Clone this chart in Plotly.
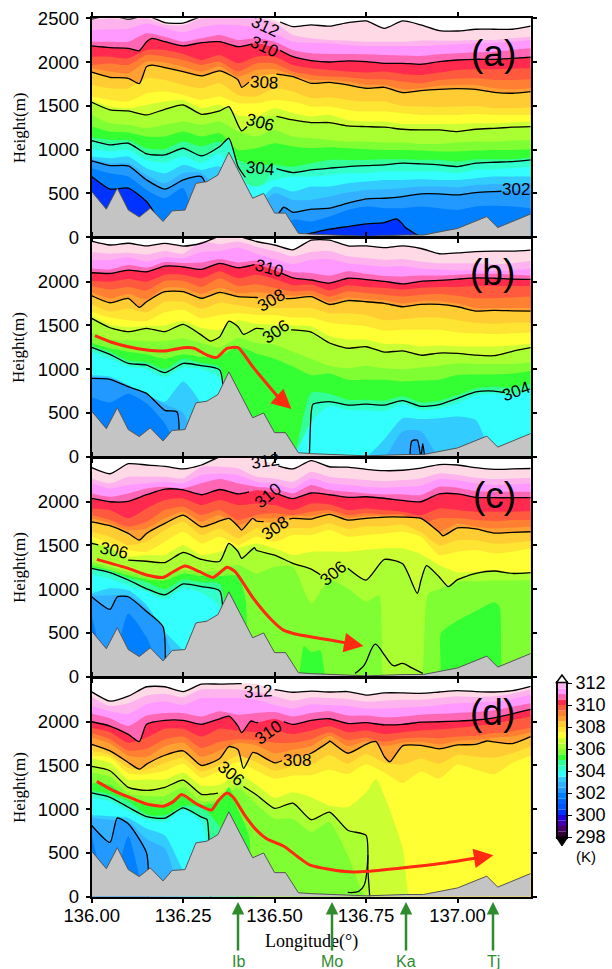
import plotly.graph_objects as go
import numpy as np

LON = [136.00,136.05,136.10,136.15,136.20,136.25,136.30,136.35,136.40,136.45,136.50,136.55,136.60,
       136.65,136.70,136.75,136.80,136.85,136.90,136.95,137.00,137.05,137.10,137.15,137.20]
TERRAIN_LON = [136.00,136.04,136.07,136.10,136.13,136.16,136.195,136.22,136.255,136.285,136.315,136.345,136.375,
               136.44,136.47,136.50,136.53,136.565,136.60,136.75,136.857,136.907,137.00,137.08,137.11,137.18,137.20]
TERRAIN_H = [520,320,560,310,230,330,180,300,310,615,635,710,970,445,500,275,275,45,35,10,25,25,100,235,110,235,265]

LEVEL_COLORS = {312:"#ffd9e6",311.5:"#ffb3ee",311:"#ff99ff",310.5:"#ff66b3",310:"#ff2a4d",309.5:"#ff5a3d",309:"#ff7f33",
                308.5:"#ffa033",308:"#ffcc33",307.5:"#ffe533",307:"#ffff33",306.5:"#ccff33",306:"#aaff33",305.5:"#7fff33",
                305:"#33ff33",304.5:"#33ff99",304:"#33ffcc",303.5:"#33ffff",303:"#33ccff",302.5:"#33b0ff",302:"#2299ff",
                301.5:"#0080ff",301:"#0066ff",300.5:"#0055ff",300:"#0033ff",299.5:"#2200dd",299:"#4400aa",298.5:"#440066"}
CB_BOTTOM = "#330033"

# ---------- panel (a) ----------
A_312=[2490,2530,2490,2530,2450,2445,2520,2530,2530,2530,2480,2405,2425,2410,2450,2470,2385,2470,2425,2360,2355,2375,2375,2375,2410]
A_311_5=[2480,2500,2480,2500,2430,2420,2500,2510,2520,2510,2450,2310,2272,2253,2245,2233,2233,2233,2245,2245,2245,2253,2253,2272,2290]
A_311=[2367,2375,2380,2440,2390,2340,2400,2430,2420,2400,2330,2233,2222,2215,2195,2184,2184,2184,2184,2195,2203,2215,2222,2233,2252]
A_310_5=[2233,2233,2233,2330,2290,2233,2272,2310,2253,2272,2233,2138,2100,2093,2093,2089,2081,2075,2070,2089,2100,2112,2119,2138,2157]
A_310=[2184,2165,2157,2233,2233,2184,2222,2233,2176,2214,2165,2062,2017,2001,2013,2005,1986,1986,1975,2005,2024,2032,2032,2043,2055]
A_309_5=[2062,2062,2043,2138,2138,2093,2024,2081,1986,2062,2062,1967,1929,1910,1891,1880,1891,1865,1853,1880,1910,1918,1918,1925,1929]
A_309=[1967,1985,1967,2081,2062,2024,1967,2005,1891,1985,1985,1891,1853,1834,1826,1804,1804,1777,1758,1796,1811,1815,1796,1796,1804]
A_308_5=[1929,1891,1872,2005,1995,1948,1891,1948,1834,1910,1918,1853,1796,1796,1777,1739,1739,1689,1701,1731,1739,1739,1701,1689,1701]
A_308=[1884,1826,1815,1948,1937,1891,1842,1899,1796,1830,1865,1834,1758,1769,1739,1701,1712,1651,1674,1689,1697,1689,1655,1644,1663]
A_307_5=[1739,1701,1701,1815,1796,1739,1701,1758,1625,1606,1701,1663,1587,1598,1568,1549,1549,1499,1492,1485,1492,1499,1473,1473,1484]
A_307=[1606,1568,1549,1644,1663,1625,1568,1606,1530,1530,1568,1549,1492,1492,1454,1435,1435,1416,1397,1397,1397,1408,1397,1397,1397]
A_306_5=[1560,1492,1473,1511,1549,1568,1473,1511,1396,1378,1473,1416,1378,1397,1339,1321,1321,1294,1294,1294,1294,1301,1301,1309,1321]
A_306=[1541,1454,1442,1396,1461,1510,1404,1442,1282,1350,1385,1339,1309,1309,1271,1263,1256,1233,1225,1225,1206,1233,1244,1256,1263]
A_305_5=[1397,1301,1283,1244,1283,1321,1283,1321,1206,1149,1225,1149,1130,1111,1092,1092,1081,1081,1065,1065,1081,1092,1092,1103,1111]
A_305=[1263,1206,1195,1149,1149,1206,1149,1187,997,1016,1073,1035,1016,1027,1016,1005,997,997,989,978,978,989,997,997,1005]
A_304_5=[1141,1111,1111,1016,1005,1092,1035,1092,883,826,826,807,845,883,883,883,890,890,883,883,864,890,890,890,913]
A_304=[1103,1054,1073,951,940,1016,928,1035,807,500,788,738,769,788,807,818,826,845,837,826,807,845,856,864,883]
A_303_5=[1016,978,997,883,852,928,845,959,654,578,654,692,692,711,730,730,750,750,750,750,730,769,776,787,807]
A_303=[921,902,921,788,730,826,768,807,500,400,578,521,578,578,616,635,654,654,662,654,654,673,692,692,692]
A_302_5=[890,845,845,711,616,730,730,500,0,300,502,426,426,464,510,540,548,559,578,578,570,597,605,608,616]
A_302=[871,818,814,654,548,654,692,0,0,0,200,285,320,331,388,438,445,464,495,495,483,510,521,530,540]
A_301_5=[788,730,692,540,445,560,0,0,0,0,0,198,179,236,312,350,331,331,350,331,312,350,358,350,331]
A_300=[693,550,560,407,100,0,0,0,0,0,0,0,45,91,122,152,167,150,0,0,0,0,0,0,0]
A_LEVELS={312:A_312,311.5:A_311_5,311:A_311,310.5:A_310_5,310:A_310,309.5:A_309_5,309:A_309,308.5:A_308_5,308:A_308,
          307.5:A_307_5,307:A_307,306.5:A_306_5,306:A_306,305.5:A_305_5,305:A_305,304.5:A_304_5,304:A_304,303.5:A_303_5,
          303:A_303,302.5:A_302_5,302:A_302,301.5:A_301_5,300:A_300}
A_EXTRA={310:[(136.13,2130),(136.165,2270)],308:[(136.13,1755),(136.165,1965),(136.41,1712)],
         306:[(136.375,1491),(136.41,1214)],304:[(136.375,1130)],302:[(136.525,342)],300:[(136.833,209),(136.855,120)]}
A_GAPS={312:[(136.435,136.515)],310:[(136.435,136.515)],308:[(136.43,136.505)],306:[(136.425,136.505)],304:[(136.42,136.505)],302:[(137.12,137.2)]}
A_LABELS=[("312",136.474,2405,25),("310",136.47,2176,25),("308",136.47,1765,3),("306",136.46,1309,15),("304",136.46,788,5),("302",137.16,540,0)]

# ---------- panel (b) ----------
B_312=[2465,2420,2440,2410,2438,2408,2440,2520,2520,2460,2420,2365,2476,2476,2410,2410,2390,2410,2380,2320,2330,2345,2350,2350,2362]
B_311_5=[2340,2320,2330,2310,2350,2320,2460,2430,2460,2400,2350,2290,2340,2350,2290,2270,2250,2260,2230,2210,2210,2210,2200,2210,2240]
B_311=[2250,2250,2280,2230,2280,2270,2340,2350,2390,2320,2260,2200,2250,2260,2210,2190,2170,2180,2150,2140,2130,2130,2120,2130,2150]
B_310_5=[2150,2140,2190,2160,2225,2215,2220,2260,2220,2240,2170,2110,2100,2070,2120,2090,2065,2060,2070,2070,2080,2090,2090,2080,2070]
B_310=[2103,2095,2133,2114,2179,2171,2141,2210,2160,2200,2130,2045,2020,1985,2040,2025,2005,1975,2005,2015,2030,2045,2040,2030,2027]
B_309_5=[2010,2000,2030,2000,2080,2080,2040,2120,2040,2080,2030,1960,1970,1900,1960,1940,1930,1910,1930,1940,1940,1950,1950,1950,1950]
B_309=[1950,1910,1940,1900,2010,2010,1940,2040,1950,1970,1930,1890,1900,1830,1890,1870,1850,1830,1850,1860,1840,1810,1810,1820,1830]
B_308_5=[1880,1810,1860,1800,1930,1930,1860,1930,1870,1880,1860,1840,1850,1770,1820,1800,1790,1750,1780,1780,1750,1700,1700,1700,1700]
B_308=[1840,1760,1810,1771,1886,1886,1810,1878,1829,1820,1800,1810,1830,1740,1785,1771,1752,1714,1741,1741,1714,1665,1672,1668,1665]
B_307_5=[1740,1660,1690,1650,1770,1770,1690,1760,1730,1700,1700,1700,1700,1640,1640,1620,1560,1570,1590,1590,1560,1530,1520,1530,1530]
B_307=[1660,1590,1560,1550,1650,1680,1580,1620,1640,1620,1620,1590,1590,1530,1510,1490,1440,1450,1450,1450,1420,1410,1400,1410,1420]
B_306_5=[1610,1510,1480,1490,1500,1550,1470,1450,1560,1520,1510,1500,1490,1380,1340,1340,1290,1290,1260,1270,1260,1260,1260,1270,1290]
B_306=[1581,1474,1429,1467,1429,1512,1390,1371,1486,1467,1450,1450,1425,1300,1240,1257,1195,1210,1160,1185,1180,1160,1155,1205,1246]
B_305_5=[1420,1340,1330,1320,1320,1350,1300,1250,1360,1300,1280,1200,1120,1040,1010,1040,1010,1000,1020,1040,1067,1060,1060,1060,1080]
B_305=[1300,1240,1200,1170,1120,1170,1140,1150,1260,1180,1120,1030,930,950,880,880,880,860,870,880,933,940,940,950,980]
B_304_5=[1265,1200,1100,1080,1000,1120,1070,1020,0,0,0,0,730,720,650,650,640,690,620,640,705,780,800,790,830]
B_304=[1250,1170,1067,1048,960,1067,1040,990,0,0,0,0,500,630,590,600,590,640,575,595,667,740,750,720,780]
B_303_5=[1200,1120,1030,1000,910,1020,1000,900,0,0,0,0,400,580,530,530,520,600,530,550,610,700,720,690,760]
B_303=[930,915,820,705,630,860,600,0,0,0,0,0,0,0,0,0,200,440,430,440,460,420,0,0,0]
B_302_5=[910,900,810,715,600,500,0,0,0,0,0,0,0,0,0,0,0,290,290,0,0,0,0,0,0]
B_302=[895,885,800,724,530]+[0]*20
B_301_5=[680,620,720,610,380]+[0]*20
B_LEVELS={312:B_312,311.5:B_311_5,311:B_311,310.5:B_310_5,310:B_310,309.5:B_309_5,309:B_309,308.5:B_308_5,308:B_308,
          307.5:B_307_5,307:B_307,306.5:B_306_5,306:B_306,305.5:B_305_5,305:B_305,304.5:B_304_5,304:B_304,303.5:B_303_5,
          303:B_303,302.5:B_302_5,302:B_302,301.5:B_301_5}
B_EXTRA={308:[(136.13,1707)],306:[(136.325,1322),(136.375,1550),(136.415,1398)],304:[(136.36,0),(136.595,0),(136.605,600)],
         304.5:[(136.57,300)],302:[(136.233,514),(136.238,0),(136.87,0),(136.875,180),(136.89,190),(136.905,150),(136.91,0)]}
B_GAPS={310:[(136.445,136.52)],308:[(136.455,136.53)],306:[(136.47,136.545)],304:[(137.13,137.2)]}
B_LABELS=[("310",136.486,2152,15),("308",136.49,1790,-30),("306",136.505,1428,-35),("304",137.16,743,-20)]
B_RED_LON=[136.009,136.05,136.10,136.15,136.20,136.25,136.28,136.315,136.342,136.37,136.40,136.44,136.51]
B_RED_H=[1383,1314,1257,1219,1208,1246,1240,1162,1135,1238,1246,1029,680]
B_TIP=(136.546,545)

# ---------- panel (c) ----------
C_312=[2389,2320,2435,2420,2405,2375,2420,2510,2510,2510,2420,2375,2470,2400,2395,2370,2355,2360,2385,2425,2420,2390,2370,2375,2380]
C_311_5=[2267,2210,2286,2285,2285,2267,2400,2400,2381,2286,2267,2229,2343,2286,2267,2248,2236,2248,2267,2324,2305,2274,2259,2267,2274]
C_311=[2210,2152,2190,2210,2229,2210,2305,2324,2305,2229,2210,2152,2267,2210,2190,2171,2160,2171,2183,2259,2248,2210,2190,2198,2210]
C_310_5=[2095,2057,2095,2152,2171,2152,2210,2259,2210,2171,2152,2095,2190,2133,2114,2095,2084,2084,2076,2171,2160,2122,2114,2114,2114]
C_310=[2038,2000,2005,2080,2145,2135,2080,2140,2090,2130,2100,2035,2100,2080,2050,2057,2040,2015,2000,2090,2090,2050,2046,2046,2046]
C_309_5=[1924,1905,1810,1924,2019,2038,1962,2019,1962,1981,1962,1905,1981,1970,1905,1924,1905,1886,1848,1924,1905,1886,1886,1886,1893]
C_309=[1848,1790,1714,1771,1905,1943,1848,1905,1790,1848,1867,1848,1886,1905,1848,1867,1855,1855,1752,1810,1810,1790,1779,1790,1790]
C_308_5=[1810,1752,1676,1695,1810,1886,1771,1848,1733,1810,1810,1840,1840,1878,1817,1840,1840,1836,1714,1657,1752,1714,1695,1703,1714]
C_308=[1771,1726,1638,1638,1752,1848,1714,1780,1720,1780,1760,1810,1802,1855,1790,1810,1825,1825,1810,1650,1700,1690,1642,1650,1657]
C_307_5=[1657,1600,1505,1543,1676,1771,1619,1695,1581,1695,1676,1700,1700,1750,1690,1720,1720,1740,1650,1500,1560,1560,1520,1530,1550]
C_307=[1600,1524,1448,1429,1543,1657,1524,1600,1505,1600,1543,1619,1619,1676,1600,1619,1638,1657,1600,1390,1429,1448,1410,1429,1467]
C_306_5=[1562,1429,1371,1390,1390,1505,1390,1429,1470,1524,1467,1390,1429,1430,1429,1450,1467,1467,1400,1276,1192,1200,1220,1195,1200]
C_306=[1524,1480,1333,1320,1305,1420,1340,1320,1430,1445,1390,1295,1230,1100,1240,1105,1340,1290,1100,1140,1110,1180,1208,1180,1190]
C_305_5=[1314,1257,1200,1162,1162,1219,1200,1219,1280,1181,1257,1257,838,1105,1010,857,0,0,0,1000,1086,1090,1100,1100,1105]
C_305=[1270,1220,1160,1110,1100,1180,1150,1150,1150,0,0,0,280,0,0,0,0,0,0,0,640,750,850,0,0]
C_304_5=[1250,1210,1130,1080,1000,1110,1080,1060]+[0]*17
C_304=[1238,1190,1105,1005,935,1060,1030,980]+[0]*17
C_303_5=[1170,1120,1040,970,880,1010,960,800]+[0]*17
C_303=[950,1010,990,819,514,300]+[0]*19
C_302_5=[925,930,930,780,480]+[0]*20
C_302=[914,770,914,745,480]+[0]*20
C_301_5=[700,0,720,450]+[0]*21
C_LEVELS={312:C_312,311.5:C_311_5,311:C_311,310.5:C_310_5,310:C_310,309.5:C_309_5,309:C_309,308.5:C_308_5,308:C_308,
          307.5:C_307_5,307:C_307,306.5:C_306_5,306:C_306,305.5:C_305_5,305:C_305,304.5:C_304_5,304:C_304,303.5:C_303_5,
          303:C_303,302.5:C_302_5,302:C_302,301.5:C_301_5}
C_EXTRA={308:[(136.13,1562),(136.375,1810),(136.41,1676),(136.44,1810),(136.96,1611)],
         306:[(136.375,1524),(136.41,1352),(136.445,1474),(136.89,952),(136.915,1269),(136.975,1029)],
         305.5:[(136.785,930),(136.795,60),(136.905,50),(136.92,950)],
         305:[(136.42,900),(136.435,0),(136.565,0),(136.58,350),(136.625,300),(136.64,0),(136.955,500),(137.115,800),(137.125,0)],
         304:[(136.355,0)],302:[(136.07,914),(136.195,571),(136.2,0)]}
C_GAPS={312:[(136.43,136.51)],310:[(136.43,136.51)],308:[(136.47,136.54)],306:[(136.018,136.10),(136.625,136.70)]}
C_LABELS=[("312",136.474,2465,-8),("310",136.483,2069,-40),("308",136.50,1695,-35),("306",136.06,1448,12),("306",136.66,1181,-40)]
C_LOOP_LON=[136.72,136.745,136.775,136.80,136.825,136.85,136.875,136.905]
C_LOOP_H=[38,133,373,248,126,152,100,38]
C_RED_LON=[136.014,136.10,136.15,136.195,136.223,136.255,136.295,136.332,136.37,136.392,136.442,136.492,136.524,136.57,136.597,136.652,136.702]
C_RED_H=[1341,1238,1162,1135,1200,1265,1200,1135,1250,1200,895,648,533,476,457,419,381]
C_TIP=(136.743,350)

# ---------- panel (d) ----------
D_312=[2341,2235,2292,2400,2400,2345,2430,2430,2436,2430,2367,2337,2350,2340,2345,2305,2330,2330,2325,2340,2355,2345,2340,2355,2405]
D_311_5=[2280,2180,2210,2300,2320,2280,2370,2370,2370,2340,2290,2240,2280,2270,2260,2230,2240,2250,2250,2270,2290,2280,2290,2320,2370]
D_311=[2180,2120,2090,2200,2230,2190,2270,2270,2270,2250,2190,2150,2200,2190,2180,2150,2150,2160,2170,2190,2210,2220,2230,2260,2310]
D_310_5=[2090,2040,1950,2070,2100,2100,2060,2120,2080,2100,2110,2060,2100,2120,2070,2070,2050,2060,2080,2090,2100,2110,2130,2170,2210]
D_310=[2000,1951,1856,1970,2015,2015,1970,2034,1950,1990,2030,1970,2015,2034,1980,1990,1965,1970,1996,2000,2008,2020,2045,2090,2140]
D_309_5=[1930,1880,1760,1820,1920,1920,1830,1920,1900,1880,1900,1860,1900,1950,1880,1900,1860,1880,1900,1910,1930,1950,1980,2020,2060]
D_309=[1870,1800,1670,1690,1800,1830,1700,1770,1800,1790,1760,1760,1800,1880,1790,1820,1770,1810,1820,1810,1830,1840,1870,1890,1930]
D_308_5=[1820,1750,1610,1600,1720,1760,1600,1670,1760,1730,1640,1680,1720,1840,1720,1780,1720,1760,1770,1740,1780,1790,1820,1830,1880]
D_308=[1742,1667,1534,1515,1617,1667,1500,1580,1680,1640,1530,1590,1640,1775,1640,1742,1600,1725,1730,1690,1735,1740,1770,1750,1829]
D_307_5=[1670,1620,1470,1450,1530,1590,1430,1510,1610,1540,1440,1490,1510,1620,1520,1630,1530,1510,1580,1520,1620,1600,1590,1640,1720]
D_307=[1610,1590,1410,1400,1440,1520,1360,1440,1540,1440,1350,1383,1390,1451,1402,1515,1420,1300,1430,1350,1510,1450,1400,1530,1610]
D_306_5=[1580,1530,1340,1340,1340,1420,1270,1280,1400,1280,1130,1193,1136,1042,1023,1193,1150,560,0,0,0,0,0,0,0]
D_306=[1489,1440,1250,1215,1250,1333,1170,1185,1300,1165,1010,1070,880,966,760,700]+[0]*9
D_305_5=[1420,1370,1180,1150,1150,1250,1090,1110,1240,1060,890,890,739,852,473]+[0]*10
D_305=[1300,1280,1120,1050,1050,1170,1050,1090,1000]+[0]*16
D_304_5=[1210,1170,1090,940,930,1040,1020,800]+[0]*17
D_304=[1186,1136,1023,915,898,1015,909,0]+[0]*17
D_303_5=[1130,1090,980,880,860,990,850]+[0]*18
D_303=[930,920,900,780,700,300]+[0]*19
D_302_5=[900,880,860,660,550]+[0]*20
D_302=[814,620,833,500]+[0]*21
D_301_5=[700,0,690]+[0]*22
D_LEVELS={312:D_312,311.5:D_311_5,311:D_311,310.5:D_310_5,310:D_310,309.5:D_309_5,309:D_309,308.5:D_308_5,308:D_308,
          307.5:D_307_5,307:D_307,306.5:D_306_5,306:D_306,305.5:D_305_5,305:D_305,304.5:D_304_5,304:D_304,303.5:D_303_5,
          303:D_303,302.5:D_302_5,302:D_302,301.5:D_301_5}
D_EXTRA={310:[(136.13,1773),(136.375,2064),(136.41,1875),(136.435,2008)],
         308:[(136.13,1458),(136.375,1716),(136.415,1466),(136.44,1648),(136.651,1780),(136.777,1773),(136.815,1542),(137.08,1780)],
         306:[(136.755,300),(136.76,0)],306.5:[(136.777,1345),(136.87,0)],305:[(136.375,1250),(136.43,700),(136.44,0)],
         304:[(136.315,883),(136.32,700),(136.325,0)],302:[(136.07,901),(136.155,0)]}
D_GAPS={312:[(136.41,136.50)],310:[(136.455,136.525)],308:[(136.52,136.595)],306:[(136.345,136.415)]}
D_LABELS=[("312",136.455,2348,-3),("310",136.483,1882,-35),("308",136.56,1553,0),("306",136.38,1413,40)]
D_LOOP_LON=[136.70,136.73,136.745,136.755]
D_LOOP_H=[49,60,133,473]
D_RED_LON=[136.014,136.059,136.114,136.15,136.195,136.223,136.246,136.287,136.328,136.346,136.37,136.387,136.419,136.451,136.478,136.524,136.57,136.597,136.652,136.706,136.76,136.853,136.953,137.053]
D_RED_H=[1318,1212,1117,1060,1034,1087,1167,1060,992,1098,1186,1136,928,758,663,580,436,360,311,284,292,330,379,443]
D_TIP=(137.098,473)

STATIONS=["Ib","Mo","Ka","Tj"]
STATION_PX=[238,332,406,493]
CB_TICKS=[298,300,302,304,306,308,310,312]

W,H=612,969
X0,X1=91.7,530.7
PANEL_PX=[(18.3,237.2),(238.0,456.7),(458.0,676.7),(678.0,896.7)]
PANEL_NAMES=["(a)","(b)","(c)","(d)"]
NAME_POS=[(493,53),(492,273),(494,495),(492,712)]
SANS="Liberation Sans"; SERIF="Liberation Serif"
RED="#ff2a10"; GREEN="#2e8b2e"

def merged(vals,extra):
    d=dict(zip(LON,vals)); d.update(dict(extra)); xs=sorted(d); return xs,[d[x] for x in xs]

def line_pts(xs,ys,gaps):
    xx,yy=list(xs),list(ys)
    for a,b in gaps:
        for e in (a,b):
            if e not in xx:
                k=int(np.searchsorted(xx,e)); xx.insert(k,e); yy.insert(k,float(np.interp(e,xs,ys)))
    ox,oy=[],[]
    n=len(xx)
    for k in range(n):
        x,y=xx[k],yy[k]
        if any(a<x<b for a,b in gaps): ox.append(x); oy.append(None); continue
        if y<=0:
            nb=(k>0 and yy[k-1]>0) or (k<n-1 and yy[k+1]>0)
            if not nb: ox.append(x); oy.append(None); continue
        ox.append(x); oy.append(y)
    return ox,oy

fig=go.Figure()
ann=[]
PANELS=[(A_LEVELS,A_EXTRA,A_GAPS,A_LABELS,None,None,None,None,None),
        (B_LEVELS,B_EXTRA,B_GAPS,B_LABELS,B_RED_LON,B_RED_H,B_TIP,None,None),
        (C_LEVELS,C_EXTRA,C_GAPS,C_LABELS,C_RED_LON,C_RED_H,C_TIP,C_LOOP_LON,C_LOOP_H),
        (D_LEVELS,D_EXTRA,D_GAPS,D_LABELS,D_RED_LON,D_RED_H,D_TIP,D_LOOP_LON,D_LOOP_H)]
layout={}
def ax(n): return "" if n==1 else str(n)
for p,(levels,extra,gaps,labels,rl,rh,tip,ll,lh) in enumerate(PANELS):
    n=p+1; xa="x"+ax(n); ya="y"+ax(n)
    for lev in sorted(levels,reverse=True):
        xs,ys=merged(levels[lev],extra.get(lev,[]))
        fig.add_trace(go.Scatter(x=xs,y=ys,xaxis=xa,yaxis=ya,mode="lines",fill="tozeroy",fillcolor=LEVEL_COLORS[lev],
                                 line=dict(width=0,shape="spline",smoothing=0.6),hoverinfo="skip"))
    for lev in sorted(levels,reverse=True):
        if lev==int(lev) and lev%2==0:
            xs,ys=merged(levels[lev],extra.get(lev,[]))
            ox,oy=line_pts(xs,ys,gaps.get(lev,[]))
            fig.add_trace(go.Scatter(x=ox,y=oy,xaxis=xa,yaxis=ya,mode="lines",connectgaps=False,
                                     line=dict(color="black",width=1.3,shape="spline",smoothing=0.6),hoverinfo="skip"))
    if ll:
        fig.add_trace(go.Scatter(x=ll,y=lh,xaxis=xa,yaxis=ya,mode="lines",
                                 line=dict(color="black",width=1.3,shape="spline"),hoverinfo="skip"))
    fig.add_trace(go.Scatter(x=TERRAIN_LON,y=TERRAIN_H,xaxis=xa,yaxis=ya,mode="lines",fill="tozeroy",fillcolor="#c4c4c4",
                             line=dict(color="#555555",width=1),hoverinfo="skip"))
    if rl:
        fig.add_trace(go.Scatter(x=rl,y=rh,xaxis=xa,yaxis=ya,mode="lines",
                                 line=dict(color=RED,width=3,shape="spline",smoothing=0.6),hoverinfo="skip"))
        ann.append(dict(x=tip[0],y=tip[1],ax=rl[-1],ay=rh[-1],xref=xa,yref=ya,axref=xa,ayref=ya,text="",showarrow=True,
                        arrowhead=2,arrowsize=1.3,arrowwidth=3,arrowcolor=RED))
    for t,lo,h,ang in labels:
        ann.append(dict(x=lo,y=h,xref=xa,yref=ya,text=t,showarrow=False,textangle=ang,font=dict(family=SANS,size=17,color="black")))
    top,bot=PANEL_PX[p]
    dom_y=[1-bot/H,1-top/H]
    layout["xaxis"+ax(n)]=dict(domain=[X0/W,X1/W],range=[136,137.2],anchor=ya,tickvals=[136,136.25,136.5,136.75,137],
        ticktext=["136.00","136.25","136.50","136.75","137.00"],showticklabels=(n==4),ticks="outside",ticklen=4,tickwidth=1.5,
        tickcolor="black",showline=True,linecolor="black",linewidth=2,mirror="ticks",showgrid=False,zeroline=False,automargin=False,
        ticklabelstandoff=-3,tickfont=dict(family=SANS,size=18.5,color="black"))
    vals=[0,500,1000,1500,2000,2500] if n==1 else [0,500,1000,1500,2000]
    layout["yaxis"+ax(n)]=dict(domain=dom_y,range=[0,2500],anchor=xa,tickvals=vals,ticks="outside",ticklen=4,tickwidth=1.5,
        tickcolor="black",showline=True,linecolor="black",linewidth=2,mirror="ticks",showgrid=False,zeroline=False,automargin=False,
        ticklabelstandoff=3,tickfont=dict(family=SANS,size=18.5,color="black"))
    ann.append(dict(x=NAME_POS[p][0]/W,y=1-NAME_POS[p][1]/H,xref="paper",yref="paper",text=PANEL_NAMES[p],showarrow=False,
                    font=dict(family=SANS,size=37,color="black")))
    ann.append(dict(x=19/W,y=1-(top+110)/H,xref="paper",yref="paper",text="Height(m)",textangle=-90,showarrow=False,
                    font=dict(family=SERIF,size=17,color="black")))

# colour bar
cb_levels=sorted(LEVEL_COLORS)
cb_base=[298.0]+[l for l in cb_levels[:-1]]
cb_colors=[CB_BOTTOM]+[LEVEL_COLORS[l] for l in cb_levels]
fig.add_trace(go.Bar(x=[0]*len(cb_base),y=[0.5]*len(cb_base),base=cb_base,marker=dict(color=cb_colors,line=dict(width=0)),width=1,
                     xaxis="x5",yaxis="y5",hoverinfo="skip"))
layout["xaxis5"]=dict(domain=[558/W,566/W],range=[-0.5,0.5],anchor="y5",showticklabels=False,ticks="",showline=True,
                      linecolor="black",linewidth=2,mirror=True,showgrid=False,zeroline=False,automargin=False)
layout["yaxis5"]=dict(domain=[1-837/H,1-683/H],range=[298,312],anchor="x5",side="right",tickvals=CB_TICKS,ticks="outside",
                      ticklen=4,tickcolor="black",showline=True,linecolor="black",linewidth=2,mirror=True,showgrid=False,
                      zeroline=False,automargin=False,tickfont=dict(family=SANS,size=18,color="black"))
def tri(pts):
    return "M "+" L ".join(f"{x/W:.5f},{1-y/H:.5f}" for x,y in pts)+" Z"
shapes=[dict(type="path",xref="paper",yref="paper",path=tri([(562,675),(556.5,682.5),(567.5,682.5)]),fillcolor="white",line=dict(color="black",width=1.5)),
        dict(type="path",xref="paper",yref="paper",path=tri([(562,846),(556,837),(568,837)]),fillcolor="black",line=dict(color="black",width=1))]
ann.append(dict(x=586/W,y=1-856/H,xref="paper",yref="paper",text="(K)",showarrow=False,font=dict(family=SANS,size=15,color="black")))
ann.append(dict(x=311/W,y=1-941/H,xref="paper",yref="paper",text="Longitude(°)",showarrow=False,font=dict(family=SERIF,size=18,color="black")))
for name,px in zip(STATIONS,STATION_PX):
    ann.append(dict(x=px/W,y=1-902/H,ax=0,ay=50,xref="paper",yref="paper",axref="pixel",ayref="pixel",text="",
                    showarrow=True,arrowhead=2,arrowsize=1,arrowwidth=2.5,arrowcolor=GREEN))
    ann.append(dict(x=px/W,y=1-961/H,xref="paper",yref="paper",text=name,showarrow=False,font=dict(family=SANS,size=16,color=GREEN)))
for a in ann:
    if a.get("xref")=="paper" and a.get("text"):
        a["xanchor"]="center"; a["yanchor"]="middle"

fig.update_layout(width=W,height=H,margin=dict(l=0,r=0,t=0,b=0),paper_bgcolor="white",plot_bgcolor="white",
                  showlegend=False,annotations=ann,shapes=shapes,barmode="overlay",**layout)
fig.write_html("out.html",config={"displayModeBar":False},post_script="document.body.style.margin='0';")
